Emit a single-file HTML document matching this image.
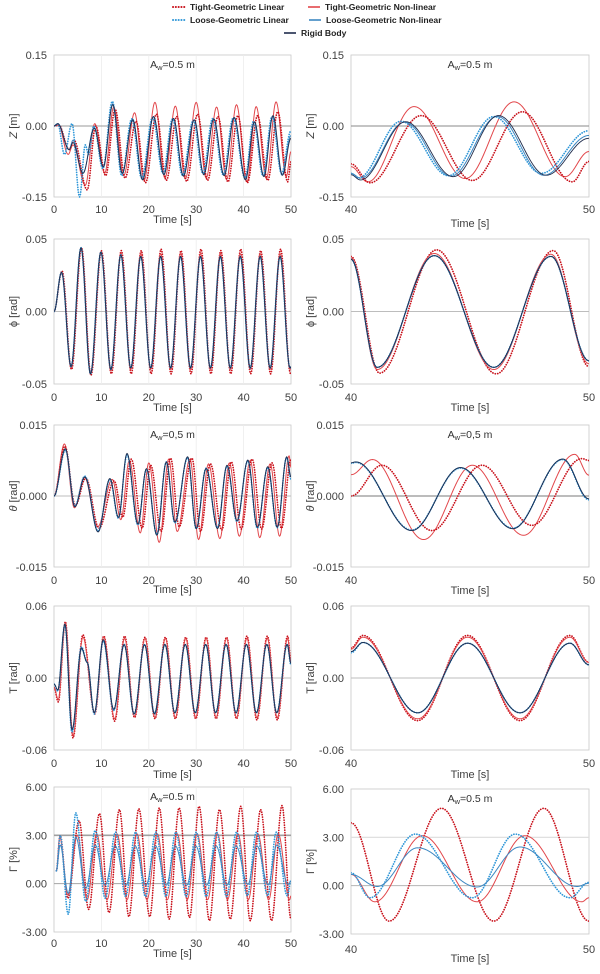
<!DOCTYPE html>
<html><head><meta charset="utf-8">
<style>
html,body{margin:0;padding:0;background:#fff;}
svg{display:block;font-family:"Liberation Sans",sans-serif;}
</style></head>
<body>
<svg id="fig" width="600" height="974" viewBox="0 0 600 974" xmlns="http://www.w3.org/2000/svg"></svg>
<script>
// ---------- DATA (extrema times [s] and values) ----------
// Z left
const ZL_TL_t=[0,1.0,3.2,4.2,7.0,8.8,10.9,12.9,15.0,17.3,19.3,21.6,23.7,25.9,28.0,30.3,32.4,34.6,36.7,38.8,40.8,42.95,45.1,47.2,49.3,50];
const ZL_TL_v=[0,0.002,-0.05,-0.03,-0.135,0.0,-0.105,0.035,-0.11,0.01,-0.12,0.025,-0.115,0.02,-0.117,0.025,-0.115,0.02,-0.118,0.022,-0.12,0.022,-0.115,0.03,-0.118,-0.075];
const ZL_TN_t=[0,0.9,3.0,4.0,6.6,8.6,10.7,12.6,14.7,17.0,19.0,21.3,23.4,25.6,27.7,30.0,32.1,34.3,36.4,38.5,40.7,42.65,44.8,46.85,49.0,50];
const ZL_TN_v=[0,0.003,-0.06,-0.04,-0.125,0.005,-0.1,0.04,-0.105,0.028,-0.115,0.05,-0.11,0.042,-0.112,0.05,-0.11,0.04,-0.113,0.045,-0.118,0.041,-0.111,0.051,-0.107,-0.054];
const ZL_LL_t=[0,0.8,2.2,3.8,5.4,6.6,7.3,8.4,10.3,12.3,14.3,16.4,18.5,20.8,23.0,25.0,27.1,29.4,31.4,33.5,35.7,37.8,40.3,42.1,44.1,46.0,48.0,50];
const ZL_LL_v=[0,0.005,-0.06,0.005,-0.15,-0.04,-0.06,0.0,-0.09,0.052,-0.105,0.015,-0.11,0.018,-0.1,0.015,-0.104,0.012,-0.1,0.016,-0.103,0.017,-0.11,0.01,-0.105,0.02,-0.1,-0.01];
const ZL_LN_t=[0,0.8,3.2,4.0,6.1,8.5,10.4,12.4,14.4,16.6,18.7,21.0,23.2,25.2,27.3,29.6,31.6,33.7,35.9,38.0,40.4,42.25,44.2,46.15,48.1,50];
const ZL_LN_v=[0,0.005,-0.05,-0.03,-0.1,-0.003,-0.088,0.047,-0.1,0.015,-0.112,0.02,-0.102,0.016,-0.105,0.013,-0.102,0.015,-0.104,0.018,-0.11,0.008,-0.106,0.02,-0.104,-0.02];
const ZL_RB_t=[0,0.8,3.2,4.0,6.1,8.5,10.4,12.4,14.4,16.6,18.7,21.0,23.2,25.2,27.3,29.6,31.6,33.7,35.9,38.0,40.4,42.3,44.3,46.2,48.2,50];
const ZL_RB_v=[0,0.005,-0.05,-0.035,-0.1,-0.005,-0.086,0.045,-0.1,0.013,-0.114,0.02,-0.103,0.016,-0.106,0.013,-0.103,0.015,-0.105,0.018,-0.114,0.009,-0.107,0.022,-0.104,-0.026];
// Z right
const ZR_TL_t=[40,40.8,42.95,45.1,47.2,49.3,50]; const ZR_TL_v=[-0.08,-0.12,0.022,-0.115,0.03,-0.118,-0.075];
const ZR_TN_t=[40,40.7,42.65,44.8,46.85,49.0,50]; const ZR_TN_v=[-0.086,-0.118,0.041,-0.111,0.051,-0.107,-0.054];
const ZR_LL_t=[40,40.3,42.1,44.1,46.0,48.0,50]; const ZR_LL_v=[-0.1,-0.11,0.01,-0.105,0.02,-0.1,-0.01];
const ZR_LN_t=[40,40.4,42.25,44.2,46.15,48.1,50]; const ZR_LN_v=[-0.1,-0.11,0.008,-0.106,0.02,-0.104,-0.02];
const ZR_RB_t=[40,40.4,42.3,44.3,46.2,48.2,50]; const ZR_RB_v=[-0.103,-0.114,0.009,-0.107,0.022,-0.104,-0.026];
// Phi left
const PL_t=[0,1.6,3.6,5.7,7.7,9.9,12.0,14.1,16.2,18.3,20.4,22.5,24.6,26.7,28.8,30.9,33.0,35.1,37.2,39.3,41.4,43.5,45.6,47.7,49.8,50];
const PL_TL_t=[0,1.7,3.7,5.8,7.8,10.0,12.1,14.2,16.3,18.4,20.5,22.6,24.7,26.8,28.9,31.0,33.1,35.2,37.3,39.4,41.5,43.6,45.7,47.8,49.9,50];
const PL_TL_v=[0,0.028,-0.04,0.044,-0.044,0.042,-0.043,0.042,-0.043,0.042,-0.043,0.043,-0.043,0.042,-0.043,0.043,-0.043,0.042,-0.043,0.043,-0.043,0.042,-0.043,0.043,-0.043,-0.042];
const PL_TN_v=[0,0.027,-0.039,0.044,-0.043,0.041,-0.041,0.04,-0.04,0.04,-0.04,0.04,-0.04,0.04,-0.04,0.04,-0.04,0.04,-0.04,0.04,-0.04,0.04,-0.04,0.04,-0.04,-0.039];
const PL_LL_v=[0,0.027,-0.038,0.044,-0.043,0.041,-0.04,0.039,-0.039,0.038,-0.039,0.038,-0.039,0.038,-0.039,0.038,-0.039,0.038,-0.039,0.038,-0.039,0.038,-0.039,0.038,-0.039,-0.038];
const PL_LN_v=[0,0.027,-0.038,0.044,-0.043,0.041,-0.04,0.039,-0.039,0.038,-0.039,0.038,-0.039,0.038,-0.039,0.038,-0.039,0.038,-0.039,0.038,-0.039,0.038,-0.039,0.038,-0.039,-0.038];
const PL_RB_v=[0,0.027,-0.038,0.044,-0.043,0.041,-0.04,0.039,-0.039,0.038,-0.039,0.038,-0.039,0.038,-0.039,0.038,-0.039,0.038,-0.039,0.038,-0.039,0.038,-0.039,0.038,-0.039,-0.038];
// Phi right
const PR_t=[40,41.1,43.5,46.0,48.4,50]; const PR_TL_t=[40,41.2,43.6,46.1,48.5,50];
const PR_TL_v=[0.038,-0.0425,0.0425,-0.043,0.042,-0.038];
const PR_TN_v=[0.037,-0.04,0.04,-0.04,0.0395,-0.036];
const PR_LL_v=[0.036,-0.0385,0.0385,-0.0385,0.038,-0.034];
const PR_LN_v=[0.036,-0.0385,0.0385,-0.0385,0.038,-0.034];
const PR_RB_v=[0.036,-0.0385,0.0385,-0.0385,0.038,-0.034];
// Theta left
const TH_B_t=[0,2.4,4.4,6.5,9.3,11.8,13.6,15.4,17.7,19.5,21.7,23.7,25.5,28.2,30.0,32.1,34.5,36.5,38.6,40.9,42.9,45.1,47.1,49.1,50];
const TH_RB_v=[0,0.01,-0.0023,0.004,-0.0076,0.0037,-0.0045,0.009,-0.0059,0.0058,-0.0083,0.0072,-0.0055,0.0083,-0.0069,0.0058,-0.0069,0.0065,-0.0052,0.0076,-0.0066,0.0062,-0.0066,0.0083,0.004];
const TH_LN_v=[0,0.0098,-0.0022,0.0041,-0.0075,0.0036,-0.0046,0.0088,-0.006,0.0057,-0.0082,0.0071,-0.0056,0.0082,-0.0068,0.0058,-0.0068,0.0064,-0.0053,0.0075,-0.0067,0.0061,-0.0066,0.0082,0.004];
const TH_LL_v=[0,0.0097,-0.0021,0.0042,-0.0074,0.0035,-0.0047,0.0087,-0.0061,0.0056,-0.0081,0.0072,-0.0057,0.0081,-0.0069,0.0059,-0.0067,0.0063,-0.0054,0.0074,-0.0068,0.006,-0.0067,0.0081,0.0035];
const TH_TN_t=[0,2.2,4.3,6.4,9.2,12.3,14.1,15.9,18.2,20.0,22.2,24.2,26.0,28.7,30.5,32.6,35.0,37.0,39.1,41.4,43.4,45.6,47.6,49.6,50];
const TH_TN_v=[0,0.011,-0.0025,0.004,-0.0065,0.0035,-0.005,0.0075,-0.0078,0.007,-0.0098,0.0078,-0.0075,0.0078,-0.0092,0.0068,-0.009,0.007,-0.0085,0.0075,-0.0088,0.0068,-0.0085,0.0085,0.006];
const TH_TL_t=[0,2.3,4.5,6.7,9.5,12.7,14.5,16.3,18.6,20.4,22.6,24.6,26.4,29.1,30.9,33.0,35.4,37.4,39.5,41.8,43.8,46.0,48.0,50];
const TH_TL_v=[0,0.0105,-0.002,0.0038,-0.0068,0.0032,-0.0045,0.0078,-0.0068,0.0065,-0.0075,0.008,-0.0065,0.008,-0.0075,0.0068,-0.0072,0.0072,-0.007,0.0078,-0.007,0.007,-0.0068,0.0078];
// Theta right
const THR_B_t=[40,40.2,42.55,44.6,46.8,48.9,50];
const THR_RB_v=[0.007,0.0072,-0.0073,0.006,-0.0069,0.0078,-0.0006];
const THR_LN_v=[0.007,0.0072,-0.0073,0.006,-0.0069,0.0078,-0.0006];
const THR_LL_v=[0.0069,0.0071,-0.0072,0.0059,-0.0068,0.0077,-0.0008];
const THR_TN_t=[40,40.9,43.05,45.1,47.25,49.4,50]; const THR_TN_v=[0.0045,0.0077,-0.0092,0.0065,-0.0083,0.0088,0.0044];
const THR_TL_t=[40,41.3,43.4,45.5,47.6,49.7,50]; const THR_TL_v=[0.0,0.0065,-0.0073,0.0065,-0.0062,0.0079,0.0075];
// T left
const TL_B_t=[0,0.8,2.3,3.8,5.8,7.0,8.5,10.4,12.6,14.8,16.9,19.1,21.2,23.4,25.5,27.7,29.8,32.0,34.1,36.3,38.4,40.6,42.7,44.9,47.0,49.2,50];
const TL_RB_v=[-0.005,-0.01,0.045,-0.043,0.025,0.013,-0.029,0.032,-0.026,0.0277,-0.03,0.0277,-0.03,0.028,-0.029,0.028,-0.029,0.028,-0.029,0.028,-0.029,0.028,-0.029,0.028,-0.029,0.028,0.012];
const TL_LN_v=[-0.005,-0.01,0.045,-0.044,0.024,0.013,-0.029,0.031,-0.027,0.028,-0.03,0.028,-0.029,0.028,-0.029,0.028,-0.029,0.028,-0.029,0.028,-0.029,0.028,-0.029,0.028,-0.029,0.028,0.012];
const TL_LL_v=[-0.005,-0.011,0.044,-0.045,0.026,0.013,-0.03,0.031,-0.027,0.028,-0.03,0.028,-0.03,0.028,-0.029,0.028,-0.029,0.028,-0.029,0.028,-0.029,0.028,-0.029,0.028,-0.029,0.028,0.011];
const TL_R_t=[0,0.9,2.4,4.0,6.1,8.6,10.5,12.8,14.9,17.0,19.2,21.3,23.5,25.6,27.8,29.9,32.1,34.2,36.4,38.5,40.7,42.8,45.0,47.1,49.3,50];
const TL_TN_v=[-0.008,-0.018,0.046,-0.048,0.034,-0.029,0.034,-0.034,0.033,-0.032,0.033,-0.033,0.033,-0.033,0.033,-0.033,0.033,-0.033,0.033,-0.033,0.033,-0.033,0.033,-0.033,0.033,0.013];
const TL_TL_v=[-0.008,-0.02,0.047,-0.05,0.036,-0.03,0.035,-0.036,0.035,-0.033,0.034,-0.034,0.034,-0.034,0.034,-0.034,0.034,-0.034,0.034,-0.034,0.035,-0.035,0.035,-0.035,0.035,0.014];
// T right
const TR_t=[40,40.5,42.8,44.9,47.1,49.2,50];
const TR_TL_v=[0.025,0.0355,-0.0355,0.0355,-0.0355,0.0355,0.013];
const TR_TN_v=[0.024,0.034,-0.034,0.034,-0.034,0.034,0.013];
const TR_LL_v=[0.021,0.0296,-0.029,0.029,-0.029,0.029,0.011];
const TR_LN_v=[0.022,0.0296,-0.029,0.029,-0.029,0.029,0.011];
const TR_RB_v=[0.022,0.0296,-0.029,0.029,-0.029,0.029,0.011];
// Gamma left
const GL_TL_t=[0.5,1.3,2.9,5.3,7.3,9.6,11.6,13.8,15.8,17.9,20.2,22.2,24.3,26.4,28.6,30.6,32.8,34.9,37.2,39.4,41.4,43.6,45.9,48.1,50];
const GL_TL_v=[0.8,3.0,-0.9,3.9,-1.6,4.35,-1.8,4.6,-2.05,4.65,-2.05,4.7,-2.2,4.7,-2.1,4.8,-2.3,4.6,-2.2,4.8,-2.3,4.6,-2.3,4.85,-2.2];
const GL_TN_t=[0.5,1.2,2.9,4.9,7.0,9.0,11.2,13.3,15.4,17.5,19.6,21.8,23.9,26.0,28.1,30.2,32.4,34.5,36.6,38.8,41.0,43.0,45.3,47.3,49.7,50];
const GL_TN_v=[0.8,2.9,-0.7,3.0,-1.0,3.1,-1.0,3.1,-1.0,3.1,-1.0,3.1,-1.0,3.1,-1.0,3.1,-1.0,3.1,-1.0,3.1,-1.0,3.1,-1.0,3.1,-1.0,-0.75];
const GL_LL_t=[0.5,1.3,3.0,4.6,6.7,8.7,10.8,13.0,15.1,17.2,19.3,21.5,23.6,25.7,27.9,30.0,32.1,34.3,36.4,38.5,40.8,42.7,45.1,46.9,49.2,50];
const GL_LL_v=[0.8,3.0,-1.9,4.4,-1.1,3.3,-0.9,3.2,-0.8,3.2,-0.8,3.2,-0.8,3.2,-0.8,3.2,-0.8,3.2,-0.8,3.2,-0.75,3.2,-0.75,3.2,-0.75,0.2];
const GL_LN_t=[0.5,1.3,3.0,4.6,6.7,8.7,10.8,12.9,15.2,17.1,19.4,21.4,23.7,25.6,28.0,29.9,32.2,34.2,36.5,38.4,40.9,42.8,45.2,47.0,49.4,50];
const GL_LN_v=[0.8,2.4,-0.6,2.9,-0.3,2.4,-0.1,2.35,-0.1,2.35,-0.1,2.35,-0.1,2.35,-0.1,2.35,-0.1,2.35,-0.1,2.35,-0.05,2.35,-0.08,2.4,-0.05,0.15];
// Gamma right
const GR_TL_t=[40,41.6,43.8,46.0,48.1,50]; const GR_TL_v=[3.9,-2.2,4.8,-2.2,4.8,-2.2];
const GR_TN_t=[40,41.0,43.0,45.3,47.3,49.7,50]; const GR_TN_v=[0.7,-1.0,3.1,-1.0,3.1,-1.0,-0.75];
const GR_LL_t=[40,40.8,42.7,45.1,46.9,49.2,50]; const GR_LL_v=[0.8,-0.75,3.2,-0.75,3.2,-0.75,0.2];
const GR_LN_t=[40,41.1,42.8,45.3,47.1,49.5,50]; const GR_LN_v=[0.7,-0.05,2.35,-0.08,2.4,-0.05,0.15];
// tick labels
const ticksZ=["0.15","0.00","-0.15"], ticksP=["0.05","0.00","-0.05"], ticksTh=["0.015","0.000","-0.015"], ticksT=["0.06","0.00","-0.06"], ticksG=["6.00","3.00","0.00","-3.00"];
const xTicksL=[0,10,20,30,40,50], xTicksR=[40,50];

// ---------- DRAWING ----------
const NS="http://www.w3.org/2000/svg";
const svg=document.getElementById('fig');
function mk(tag,attrs,parent){const e=document.createElementNS(NS,tag);for(const k in attrs)e.setAttribute(k,attrs[k]);(parent||svg).appendChild(e);return e;}
const STY={
 TL:{c:"#c8101a",w:1.7,d:"0.1 2.4"},
 TN:{c:"#e2474b",w:1.0,d:null},
 LL:{c:"#2f97d8",w:1.7,d:"0.1 2.4"},
 LN:{c:"#3d88c2",w:1.0,d:null},
 RB:{c:"#1f2c4c",w:0.9,d:null}
};
function makeScale(d0,d1,r0,r1){return v=>r0+(v-d0)/(d1-d0)*(r1-r0);}
let clipN=0;
function panel(p){
 const g=mk('g',{});
 
 
 const sx=makeScale(p.x0,p.x1,p.L,p.R), sy=makeScale(p.ymax,p.ymin,p.T,p.B);
 const bg=mk('rect',{x:p.L,y:p.T,width:p.R-p.L,height:p.B-p.T,fill:"#fff",stroke:"#c8c8c8","stroke-width":0.8},g);
 
 
 if(p.vgrid){for(const t of p.vgrid){const l=mk('line',{x1:sx(t),x2:sx(t),y1:p.T,y2:p.B,stroke:"#ececec","stroke-width":0.8},g);
  
  }}
 for(const h of p.hlines){const l=mk('line',{x1:p.L,x2:p.R,y1:sy(h.v),y2:sy(h.v),stroke:h.c,"stroke-width":h.w},g);
  
  }
 p.yt.forEach((lab,i)=>{const v=parseFloat(lab);const t=mk('text',{x:p.L-7,y:sy(v)+4,"text-anchor":"end","font-size":11,fill:"#404040"},g);t.textContent=lab;
  
  });
 p.xt.forEach(v=>{const t=mk('text',{x:sx(v),y:p.xty,"text-anchor":"middle","font-size":11,fill:"#404040"},g);t.textContent=v;
  
  });
 const xt=mk('text',{x:(p.L+p.R)/2,y:p.xly,"text-anchor":"middle","font-size":11,fill:"#404040"},g);xt.textContent="Time [s]";
 
 
 const yt=mk('text',{x:0,y:0,"text-anchor":"middle","font-size":11,fill:"#404040",transform:`translate(${p.L-37},${(p.T+p.B)/2}) rotate(-90)`},g);
 yt.innerHTML=p.ylab;
 
 
 if(p.note){const n=mk('text',{x:(p.L+p.R)/2,y:p.T+13,"text-anchor":"middle","font-size":10.5,fill:"#333"},g);
  n.innerHTML='A<tspan font-size="7.5" dy="2">w</tspan><tspan dy="-2">'+p.note+'</tspan>';
  
  }
 const cid='c'+(clipN++);
 const cp=mk('clipPath',{id:cid},g);mk('rect',{x:p.L,y:p.T-1,width:p.R-p.L,height:p.B-p.T+2},cp);
 const sg=mk('g',{"clip-path":`url(#${cid})`},g);
 for(const s of p.series){
  const st=STY[s.k];let d="";
  for(let i=0;i<s.t.length-1;i++){
   const t0=s.t[i],t1=s.t[i+1],v0=s.v[i],v1=s.v[i+1];const n=Math.max(4,Math.ceil((sx(t1)-sx(t0))*1.5));
   for(let j=(i===0?0:1);j<=n;j++){const f=j/n;const tt=t0+(t1-t0)*f;const vv=v0+(v1-v0)*(1-Math.cos(Math.PI*f))/2;
    d+=(d?"L":"M")+sx(tt).toFixed(2)+","+sy(vv).toFixed(2);}
  }
  const a={d:d,fill:"none",stroke:st.c,"stroke-width":st.w,"stroke-linejoin":"round"};
  if(st.d){a["stroke-dasharray"]=st.d;a["stroke-linecap"]="round";}
  const path=mk('path',a,sg);
  
  
 }
}
const LX={L:54,R:291,x0:0,x1:50,xt:xTicksL,vgrid:[10,20,30,40]};
const RX={L:351,R:589,x0:40,x1:50,xt:xTicksR,vgrid:null};
function S(k,n,t,v){return {k:k,n:n,t:t,v:v};}
const panels=[
 Object.assign({},LX,{name:'heave-full',T:55,B:197,ymax:0.15,ymin:-0.15,yt:ticksZ,xty:213,xly:223,ylab:'<tspan font-style="italic">Z</tspan> [m]',note:'=0.5 m',hlines:[{v:0,c:"#9a9a9a",w:1}],
  series:[S('TN','tight-nonlinear',ZL_TN_t,ZL_TN_v),S('TL','tight-linear',ZL_TL_t,ZL_TL_v),S('LL','loose-linear',ZL_LL_t,ZL_LL_v),S('LN','loose-nonlinear',ZL_LN_t,ZL_LN_v),S('RB','rigid-body',ZL_RB_t,ZL_RB_v)]}),
 Object.assign({},RX,{name:'heave-zoom',T:55,B:197,ymax:0.15,ymin:-0.15,yt:ticksZ,xty:213,xly:227,ylab:'<tspan font-style="italic">Z</tspan> [m]',note:'=0.5 m',hlines:[{v:0,c:"#8a8a8a",w:1}],
  series:[S('TN','tight-nonlinear',ZR_TN_t,ZR_TN_v),S('TL','tight-linear',ZR_TL_t,ZR_TL_v),S('LL','loose-linear',ZR_LL_t,ZR_LL_v),S('LN','loose-nonlinear',ZR_LN_t,ZR_LN_v),S('RB','rigid-body',ZR_RB_t,ZR_RB_v)]}),
 Object.assign({},LX,{name:'roll-full',T:239,B:384,ymax:0.05,ymin:-0.05,yt:ticksP,xty:401,xly:411,ylab:'ϕ  [rad]',hlines:[{v:0,c:"#bdbdbd",w:1}],
  series:[S('TL','tight-linear',PL_TL_t,PL_TL_v),S('TN','tight-nonlinear',PL_t,PL_TN_v),S('LL','loose-linear',PL_t,PL_LL_v),S('LN','loose-nonlinear',PL_t,PL_LN_v),S('RB','rigid-body',PL_t,PL_RB_v)]}),
 Object.assign({},RX,{name:'roll-zoom',T:239,B:384,ymax:0.05,ymin:-0.05,yt:ticksP,xty:401,xly:411,ylab:'ϕ  [rad]',hlines:[{v:0,c:"#bdbdbd",w:1}],
  series:[S('TL','tight-linear',PR_TL_t,PR_TL_v),S('TN','tight-nonlinear',PR_t,PR_TN_v),S('LL','loose-linear',PR_t,PR_LL_v),S('LN','loose-nonlinear',PR_t,PR_LN_v),S('RB','rigid-body',PR_t,PR_RB_v)]}),
 Object.assign({},LX,{name:'pitch-full',T:425,B:567,ymax:0.015,ymin:-0.015,yt:ticksTh,xty:584,xly:593,ylab:'<tspan font-style="italic">θ</tspan> [rad]',note:'=0,5 m',hlines:[{v:0,c:"#bdbdbd",w:1}],
  series:[S('TN','tight-nonlinear',TH_TN_t,TH_TN_v),S('TL','tight-linear',TH_TL_t,TH_TL_v),S('LL','loose-linear',TH_B_t,TH_LL_v),S('LN','loose-nonlinear',TH_B_t,TH_LN_v),S('RB','rigid-body',TH_B_t,TH_RB_v)]}),
 Object.assign({},RX,{name:'pitch-zoom',T:425,B:567,ymax:0.015,ymin:-0.015,yt:ticksTh,xty:584,xly:594,ylab:'<tspan font-style="italic">θ</tspan> [rad]',note:'=0,5 m',hlines:[{v:0,c:"#7a7a7a",w:1}],
  series:[S('TN','tight-nonlinear',THR_TN_t,THR_TN_v),S('TL','tight-linear',THR_TL_t,THR_TL_v),S('LL','loose-linear',THR_B_t,THR_LL_v),S('LN','loose-nonlinear',THR_B_t,THR_LN_v),S('RB','rigid-body',THR_B_t,THR_RB_v)]}),
 Object.assign({},LX,{name:'yaw-full',T:606,B:750,ymax:0.06,ymin:-0.06,yt:ticksT,xty:767,xly:778,ylab:'T [rad]',hlines:[{v:0,c:"#bdbdbd",w:1}],
  series:[S('TL','tight-linear',TL_R_t,TL_TL_v),S('TN','tight-nonlinear',TL_R_t,TL_TN_v),S('LL','loose-linear',TL_B_t,TL_LL_v),S('LN','loose-nonlinear',TL_B_t,TL_LN_v),S('RB','rigid-body',TL_B_t,TL_RB_v)]}),
 Object.assign({},RX,{name:'yaw-zoom',T:606,B:750,ymax:0.06,ymin:-0.06,yt:ticksT,xty:767,xly:778,ylab:'T [rad]',hlines:[{v:0,c:"#bdbdbd",w:1}],
  series:[S('TL','tight-linear',TR_t,TR_TL_v),S('TN','tight-nonlinear',TR_t,TR_TN_v),S('LL','loose-linear',TR_t,TR_LL_v),S('LN','loose-nonlinear',TR_t,TR_LN_v),S('RB','rigid-body',TR_t,TR_RB_v)]}),
 Object.assign({},LX,{name:'tension-full',T:787,B:932,ymax:6,ymin:-3,yt:ticksG,xty:947,xly:957,ylab:'Γ [%]',note:'=0.5 m',hlines:[{v:0,c:"#a5a5a5",w:1},{v:3,c:"#a0a0a0",w:1.6}],
  series:[S('TL','tight-linear',GL_TL_t,GL_TL_v),S('TN','tight-nonlinear',GL_TN_t,GL_TN_v),S('LL','loose-linear',GL_LL_t,GL_LL_v),S('LN','loose-nonlinear',GL_LN_t,GL_LN_v)]}),
 Object.assign({},RX,{name:'tension-zoom',T:789,B:934,ymax:6,ymin:-3,yt:ticksG,xty:953,xly:962,ylab:'Γ [%]',note:'=0.5 m',hlines:[{v:0,c:"#b5b5b5",w:1},{v:3,c:"#dcdcdc",w:1.2}],
  series:[S('TL','tight-linear',GR_TL_t,GR_TL_v),S('TN','tight-nonlinear',GR_TN_t,GR_TN_v),S('LL','loose-linear',GR_LL_t,GR_LL_v),S('LN','loose-nonlinear',GR_LN_t,GR_LN_v)]})
];
panels.forEach(panel);

// ---------- LEGEND ----------
const lg=mk('g',{});


const legItems=[
 {k:'TL',x:172,y:7,label:'Tight-Geometric Linear'},
 {k:'TN',x:307,y:7,label:'Tight-Geometric Non-linear'},
 {k:'LL',x:172,y:20,label:'Loose-Geometric Linear'},
 {k:'LN',x:308,y:20,label:'Loose-Geometric Non-linear'},
 {k:'RB',x:283,y:33,label:'Rigid Body'}
];
legItems.forEach(it=>{
 const st=STY[it.k];
 const a={x1:it.x+1,x2:it.x+13,y1:it.y,y2:it.y,stroke:st.c,"stroke-width":st.d?2:1.6};
 if(st.d){a["stroke-dasharray"]="0.1 2.7";a["stroke-linecap"]="round";}
 const l=mk('line',a,lg);
 
 
 const t=mk('text',{x:it.x+18,y:it.y+3,"font-size":8.6,"font-weight":"bold",fill:"#222"},lg);
 t.textContent=it.label;
 
 
});
</script>
</body></html>
